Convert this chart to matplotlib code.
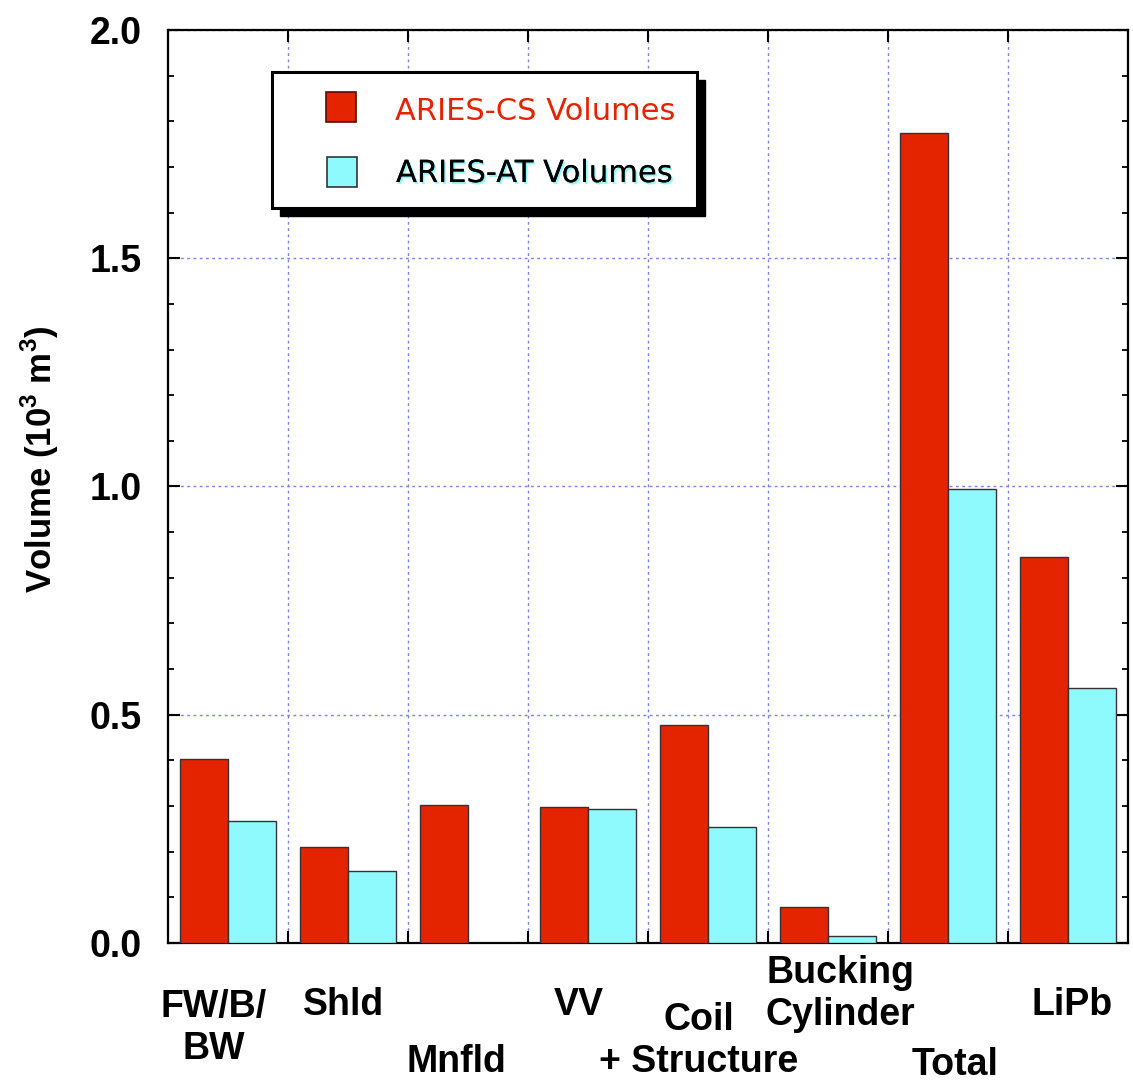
import numpy as np
import matplotlib
matplotlib.use("Agg")
import matplotlib.pyplot as plt
from matplotlib.patches import Rectangle
import matplotlib.patheffects as pe

# data
categories = ["FW/B/\nBW", "Shld", "Mnfld", "VV", "Coil\n+ Structure",
              "Bucking\nCylinder", "Total", "LiPb"]
cs_volumes = [0.403, 0.210, 0.302, 0.298, 0.478, 0.079, 1.774, 0.846]
at_volumes = [0.267, 0.158, 0.0, 0.294, 0.254, 0.015, 0.995, 0.559]
series_names = ["ARIES-CS Volumes", "ARIES-AT Volumes"]

# label placement (staggered like the original)
label_dx = [-0.12, -0.04, -0.10, -0.08, -0.08, 0.10, 0.06, 0.03]
label_top = [-0.050, -0.048, -0.111, -0.048, -0.065, -0.013, -0.114, -0.048]

red = "#e42400"
cyan = "#8ffafd"
gridcol = "#7a82e6"

plt.rcParams['font.family'] = ['Liberation Sans', 'DejaVu Sans']
plt.rcParams['mathtext.fontset'] = 'custom'
plt.rcParams['mathtext.rm'] = 'Liberation Sans:bold'
plt.rcParams['mathtext.bf'] = 'Liberation Sans:bold'

fig = plt.figure(figsize=(11.33, 10.84), dpi=100)
ax = fig.add_axes([0.1483, 0.1301, 0.8473, 0.8422])

x = np.arange(len(categories))
w = 0.4
ax.bar(x - w/2, cs_volumes, w, color=red, edgecolor="#333333", linewidth=1.0, zorder=3)
ax.bar(x + w/2, at_volumes, w, color=cyan, edgecolor="#333333", linewidth=1.0, zorder=3)

ax.set_xlim(-0.5, len(categories) - 0.5)
ax.set_ylim(0, 2.0)

ax.set_xticks(x[:-1] + 0.5)
ax.set_xticklabels([])
ax.set_yticks([0, 0.5, 1.0, 1.5, 2.0])
ax.set_yticklabels(["0.0", "0.5", "1.0", "1.5", "2.0"])
ax.set_yticks(np.arange(0, 2.01, 0.1), minor=True)

ax.tick_params(axis='both', which='major', direction='in', length=8.6, width=1.5,
               top=True, right=True, labelsize=27, pad=19)
ax.tick_params(axis='y', which='minor', direction='in', length=4.3, width=1.3,
               left=True, right=True)
for lab in ax.get_yticklabels():
    lab.set_fontweight('bold')

ax.grid(True, which='major', color=gridcol, linestyle=(0, (2, 2.5)), linewidth=1.0, zorder=0)
for s in ax.spines.values():
    s.set_linewidth(1.6)

# category labels under the axis
for i, name in enumerate(categories):
    ax.text(x[i] + label_dx[i], label_top[i], name, transform=ax.get_xaxis_transform(),
            ha='center', va='top', fontsize=27, fontweight='bold', linespacing=1.22)

ax.set_ylabel("Volume (10$^{3}$ m$^{3}$)", fontsize=25, fontweight='bold')
ax.yaxis.set_label_coords(-0.112, 0.53)

# legend box with hard shadow
bx, by, bw, bh = 0.1083, 0.805, 0.4427, 0.149
ax.add_patch(Rectangle((bx + 0.0085, by - 0.0088), bw, bh, transform=ax.transAxes,
                       facecolor='black', edgecolor='black', zorder=5, clip_on=False))
ax.add_patch(Rectangle((bx, by), bw, bh, transform=ax.transAxes,
                       facecolor='white', edgecolor='black', linewidth=2.2, zorder=6,
                       clip_on=False))
ax.add_patch(Rectangle((0.1646, 0.8992), 0.03125, 0.0329, transform=ax.transAxes,
                       facecolor=red, edgecolor='#5a0a00', linewidth=1.2, zorder=7))
ax.add_patch(Rectangle((0.1656, 0.828), 0.03125, 0.0329, transform=ax.transAxes,
                       facecolor=cyan, edgecolor='#333333', linewidth=1.2, zorder=7))
ax.text(0.2365, 0.9014, series_names[0], transform=ax.transAxes, fontsize=22,
        family='DejaVu Sans', color=red, va='baseline', ha='left', zorder=8)
ax.text(0.2375, 0.8335, series_names[1], transform=ax.transAxes, fontsize=22,
        family='DejaVu Sans', color='black', va='baseline', ha='left', zorder=8,
        path_effects=[pe.withSimplePatchShadow(offset=(1.2, -1.5), shadow_rgbFace=cyan,
                                               alpha=1.0), pe.Normal()])

fig.savefig("out.png", dpi=100)
